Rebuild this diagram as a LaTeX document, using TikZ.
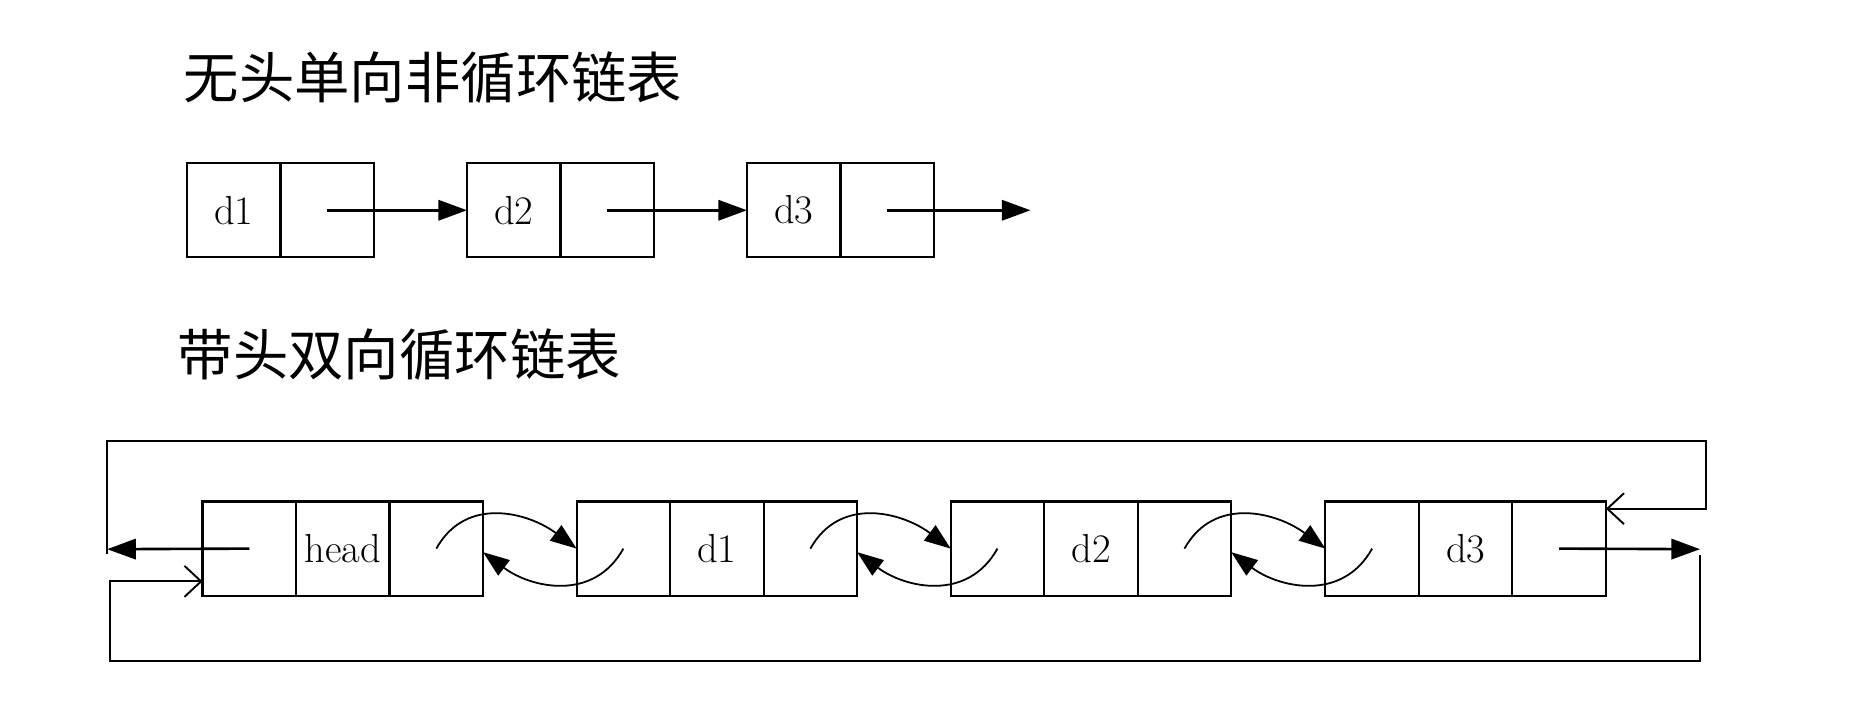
\documentclass[tikz,border=0pt]{standalone}
\usepackage{fontspec}
\newfontfamily\cjk{Noto Sans CJK SC}
\usetikzlibrary{arrows.meta,positioning}
\tikzset{
  cell/.style={draw, line width=1.8pt, minimum width=78.5pt, minimum height=79pt,
    inner sep=0pt, outer sep=0pt, font=\fontsize{34}{38}\selectfont},
  title/.style={anchor=west, inner sep=0pt, font=\cjk\fontsize{46.5}{52}\selectfont},
  arr/.style={-{Triangle[length=24pt, width=17pt]}, line width=2.2pt},
  openarr/.style={-{Straight Barb[length=14pt, width=26pt]}, line width=1.6pt},
  twist/.style={-{Triangle[length=22pt, width=16pt]}, line width=1.5pt},
}

\begin{document}
\begin{tikzpicture}[x=1pt, y=-1pt, node distance=78pt]
  \useasboundingbox (0,0) rectangle (1568,601);

  % List 1
  \node[title] (t1) at (154,65) {无头单向非循环链表};
  \node[cell, anchor=north west] (a1) at (157,137) {d1};
  \node[cell, right=0pt of a1] (a1n) {};
  \node[cell, right=of a1n] (a2) {d2};
  \node[cell, right=0pt of a2] (a2n) {};
  \node[cell, right=of a2n] (a3) {d3};
  \node[cell, right=0pt of a3] (a3n) {};
  \coordinate (null) at (865,176.5);

  \draw[arr] (a1n.center) -- (a2.west);
  \draw[arr] (a2n.center) -- (a3.west);
  \draw[arr] (a3n.center) -- (null);

  % List 2
  \node[title] (t2) at (149,298) {带头双向循环链表};
  \node[cell, anchor=north west] (hp) at (170,421) {};
  \node[cell, right=0pt of hp] (hd) {head};
  \node[cell, right=0pt of hd] (hn) {};
  \node[cell, right=78.5pt of hn] (p1) {};
  \node[cell, right=0pt of p1] (v1) {d1};
  \node[cell, right=0pt of v1] (n1) {};
  \node[cell, right=78.5pt of n1] (p2) {};
  \node[cell, right=0pt of p2] (v2) {d2};
  \node[cell, right=0pt of v2] (n2) {};
  \node[cell, right=79pt of n2] (p3) {};
  \node[cell, right=0pt of p3] (v3) {d3};
  \node[cell, right=0pt of v3] (n3) {};

  % next / prev links
  \draw[twist] (hn.center) .. controls +(25,-45) and +(-40,-30) .. (p1.west);
  \draw[twist] (p1.center) .. controls +(-25,45) and +(40,30) .. ([yshift=-3pt]hn.east);
  \draw[twist] (n1.center) .. controls +(25,-45) and +(-40,-30) .. (p2.west);
  \draw[twist] (p2.center) .. controls +(-25,45) and +(40,30) .. ([yshift=-3pt]n1.east);
  \draw[twist] (n2.center) .. controls +(25,-45) and +(-40,-30) .. (p3.west);
  \draw[twist] (p3.center) .. controls +(-25,45) and +(40,30) .. ([yshift=-3pt]n2.east);

  % Loop back
  \coordinate (lw) at (90,461);
  \coordinate (tl) at (90,370);
  \coordinate (tr) at (1432,370);
  \coordinate (rw) at (1427,461);
  \coordinate (br) at (1427,555);
  \coordinate (bl) at (92,555);
  \draw[arr] (hp.center) -- (lw);
  \draw[openarr] ([yshift=-4pt]lw) -- (tl) -- (tr) |- ([yshift=-6pt]n3.north east);
  \draw[arr] (n3.center) -- (rw);
  \draw[openarr] ([yshift=-5pt]rw) -- (br) -- (bl) |- ([yshift=-27.5pt]hp.west);
\end{tikzpicture}
\end{document}
